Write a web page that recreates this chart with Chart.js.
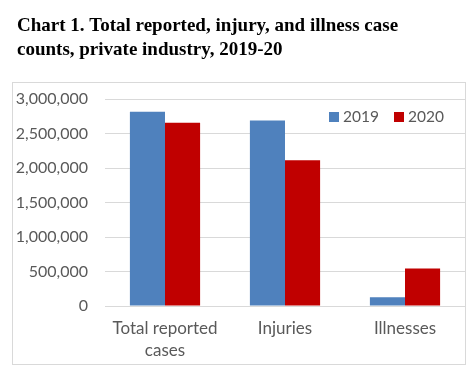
<!DOCTYPE html>
<html>
<head>
<meta charset="utf-8">
<script src="https://cdn.jsdelivr.net/npm/chart.js@4"></script>
<style>
html,body{margin:0;padding:0;background:#fff;}
#wrap{position:relative;width:473px;height:371px;}
</style>
</head>
<body>
<div id="wrap"><canvas id="c" width="473" height="371"></canvas></div>
<script>
const TITLE_LINES = ["Chart 1. Total reported, injury, and illness case", "counts, private industry, 2019-20"];
const categories = [["Total reported", "cases"], "Injuries", "Illnesses"];
const series2019 = [2814000, 2686800, 127200];
const series2020 = [2654700, 2111100, 544600];
const seriesNames = ["2019", "2020"];
const yTicks = [0, 500000, 1000000, 1500000, 2000000, 2500000, 3000000];

const colors = ["#4F81BD", "#C00000"];

const decor = {
  id: 'decor',
  beforeDraw(chart) {
    const ctx = chart.ctx;
    ctx.save();
    ctx.fillStyle = '#fff';
    ctx.fillRect(0, 0, chart.width, chart.height);
    ctx.strokeStyle = '#d9d9d9';
    ctx.lineWidth = 1;
    ctx.strokeRect(12.5, 82.5, 453, 282);
    ctx.restore();
  },
  afterDraw(chart) {
    const ctx = chart.ctx;
    ctx.save();
    ctx.fillStyle = '#000';
    ctx.font = 'bold 19px "Liberation Serif"';
    ctx.textBaseline = 'alphabetic';
    ctx.textAlign = 'left';
    ctx.fillText(TITLE_LINES[0], 17, 31);
    ctx.fillText(TITLE_LINES[1], 17, 55);
    // legend
    ctx.font = '15.5px Lato';
    ctx.textBaseline = 'middle';
    const xs = [329, 394];
    chart.data.datasets.forEach((ds, i) => {
      ctx.fillStyle = ds.backgroundColor;
      ctx.fillRect(xs[i], 112, 10, 10);
      ctx.fillStyle = '#595959';
      ctx.fillText(ds.label, xs[i] + 14, 117);
    });
    ctx.restore();
  }
};

new Chart(document.getElementById('c'), {
  type: 'bar',
  data: {
    labels: categories,
    datasets: [
      { label: seriesNames[0], data: series2019, backgroundColor: colors[0] },
      { label: seriesNames[1], data: series2020, backgroundColor: colors[1] }
    ]
  },
  options: {
    responsive: false,
    animation: false,
    devicePixelRatio: 1,
    layout: { padding: { top: 99, left: 0, right: 8, bottom: 0 } },
    plugins: { legend: { display: false }, title: { display: false }, tooltip: { enabled: false } },
    datasets: { bar: { categoryPercentage: 0.585, barPercentage: 1.0 } },
    scales: {
      x: {
        grid: { display: false, drawTicks: false },
        border: { display: false },
        ticks: { color: '#595959', font: { family: 'Lato', size: 17, lineHeight: 1.27 }, padding: 12, maxRotation: 0, autoSkip: false },
        afterFit(s) { s.height = 65; }
      },
      y: {
        min: 0, max: 3000000,
        afterBuildTicks(s) { s.ticks = yTicks.map(v => ({ value: v })); },
        grid: { color: '#d9d9d9', lineWidth: 1, drawTicks: false },
        border: { display: false },
        ticks: {
          color: '#595959', font: { family: 'Lato', size: 16 }, padding: 17,
          callback: v => Number(v).toLocaleString('en-US')
        },
        afterFit(s) { s.width = 105; }
      }
    }
  },
  plugins: [decor]
});
</script>
</body>
</html>
